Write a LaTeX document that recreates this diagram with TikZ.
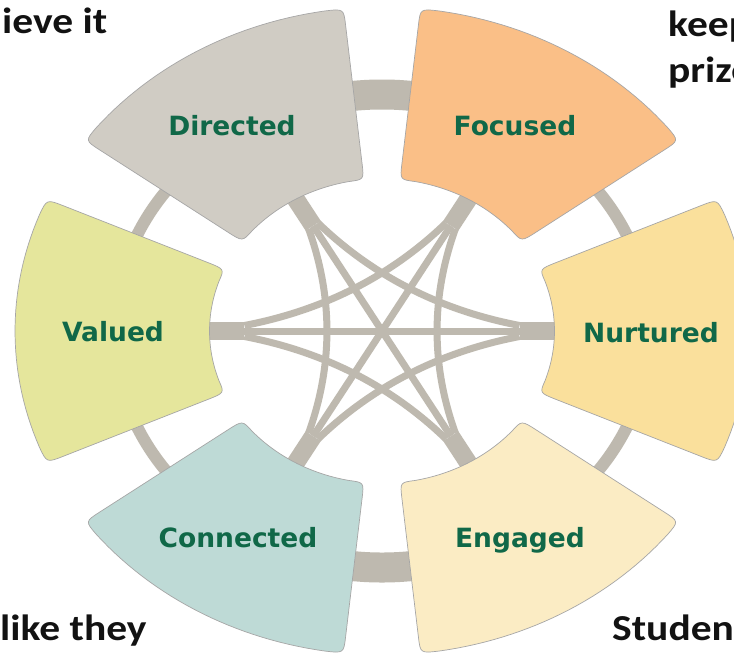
\documentclass[tikz,border=0pt]{standalone}
\usepackage{fontspec}
\usepackage{graphicx}
\setmainfont{DejaVu Sans}
\newfontfamily\cornerfont{Carlito}
\usetikzlibrary{calc}
\definecolor{cdir}{HTML}{D0CCC4}
\definecolor{cfoc}{HTML}{FABF87}
\definecolor{cnur}{HTML}{FAE09C}
\definecolor{ceng}{HTML}{FBECC4}
\definecolor{ccon}{HTML}{BEDAD6}
\definecolor{cval}{HTML}{E5E69C}
\definecolor{linkgray}{HTML}{BEB9AF}
\definecolor{labelgreen}{HTML}{106848}
\definecolor{cornertext}{HTML}{121212}
\begin{document}
\begin{tikzpicture}[x=1pt,y=1pt,
  seglabel/.style={font=\fontsize{26.5}{30}\selectfont\bfseries, text=labelgreen, inner sep=0pt, anchor=base},
  corner/.style={font=\cornerfont\bfseries\fontsize{41.5}{45}\selectfont, text=cornertext, inner sep=0pt, anchor=base west},
  chord/.style={draw=linkgray, line width=7pt},
  stub/.style={draw=linkgray, line width=18pt},
  segbox/.style={draw=black!35, line width=0.7pt},
]
\clip (0,0) rectangle (734,-656);
\fill[white] (0,0) rectangle (734,-656);

\begin{scope}[shift={(382,-331)}, x={(367pt,0pt)}, y={(0pt,324pt)}]
\coordinate (O) at (0,0);
% links between neighbouring segments
\foreach \a/\w in {90/30, 150/12, 210/12, 270/30, 330/12, 30/12} {
  \pgfmathsetmacro\da{\a-10}\pgfmathsetmacro\db{\a+10}
  \draw[draw=linkgray, line width=\w pt] plot[domain=\da:\db, samples=20] (\x:0.73);
}
% anchor points
\foreach \n/\a in {nur/0, foc/60, dir/120, val/180, con/240, eng/300} {
  \coordinate (\n-s) at (\a:0.5);
  \coordinate (\n-e) at (\a:0.375);
  \coordinate (\n-l) at ($(\n-e)!5.5pt!90:(O)$);
  \coordinate (\n-r) at ($(\n-e)!5.5pt!-90:(O)$);
}
% stubs
\foreach \n in {nur,foc,dir,val,con,eng} {
  \draw[stub] (\n-s) -- (\n-e);
}
% diameters
\draw[chord] (nur-e) -- (val-e);
\draw[chord] (foc-e) -- (con-e);
\draw[chord] (dir-e) -- (eng-e);
% curved chords
\foreach \p/\q in {nur/dir, foc/val, dir/con, val/eng, con/nur, eng/foc} {
  \coordinate (m) at ($(\p-r)!0.5!(\q-l)$);
  \coordinate (c) at ($(O)!0.5!(m)$);
  \draw[chord] (\p-r) .. controls ($(\p-r)!2/3!(c)$) and ($(\q-l)!2/3!(c)$) .. (\q-l);
}
% segments
\foreach \n/\a/\col in {nur/0/cnur, foc/60/cfoc, dir/120/cdir, val/180/cval, con/240/ccon, eng/300/ceng} {
  \pgfmathsetmacro\oa{\a+21}\pgfmathsetmacro\ob{\a-21}
  \pgfmathsetmacro\ia{\a-19}\pgfmathsetmacro\ib{\a+19}
  \path[segbox, fill=\col] (\oa:1) -- plot[domain=\oa:\ob, samples=30] (\x:1)
    .. controls (\a-24:1) .. (\a-24:0.95) -- (\a-24:0.52)
    .. controls (\a-24:0.47) .. (\ia:0.47)
    -- plot[domain=\ia:\ib, samples=30] (\x:0.47)
    .. controls (\a+24:0.47) .. (\a+24:0.52) -- (\a+24:0.95)
    .. controls (\a+24:1) .. (\oa:1) -- cycle;
}
\end{scope}

% labels
\node[seglabel] (ldir) at (232,-135) {Directed};
\node[seglabel] (lfoc) at (515,-135) {Focused};
\node[seglabel] (lval) at (113,-341) {Valued};
\node[seglabel] (lnur) at (651,-342) {Nurtured};
\node[seglabel] (lcon) at (238,-547) {Connected};
\node[seglabel] (leng) at (520,-547) {Engaged};

% cropped slide text
\node[corner] (t1) at (2,-33) {\scalebox{1}[0.88]{ieve it}};
\node[corner] (t2) at (668,-36) {\scalebox{1}[0.88]{keep}};
\node[corner] (t3) at (668,-82) {\scalebox{1}[0.88]{prize}};
\node[corner] (t4) at (0,-640) {\scalebox{1}[0.88]{like they}};
\node[corner] (t5) at (612,-640) {\scalebox{1}[0.88]{Studen}};
\end{tikzpicture}
\end{document}
